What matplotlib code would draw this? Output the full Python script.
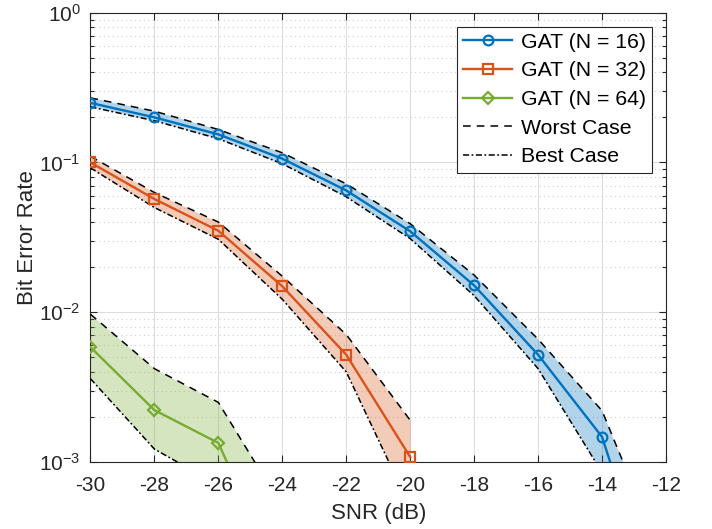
import numpy as np
import matplotlib
matplotlib.use("Agg")
import matplotlib.pyplot as plt
from matplotlib.ticker import LogLocator, NullFormatter

# SNR axis (dB)
snr16 = [-30, -28, -26, -24, -22, -20, -18, -16, -14, -12]
snr32 = [-30, -28, -26, -24, -22, -20]
snr64 = [-30, -28, -26, -24]

# bit error rate, mean / worst / best
ber16 = [0.25, 0.20, 0.154, 0.106, 0.065, 0.0347, 0.0151, 0.0052, 0.00147, 7e-5]
worst16 = [0.27, 0.22, 0.166, 0.116, 0.072, 0.039, 0.0177, 0.0066, 0.0022, 2e-4]
best16 = [0.235, 0.19, 0.144, 0.098, 0.059, 0.031, 0.0129, 0.0042, 0.00085, 3e-5]

ber32 = [0.1, 0.057, 0.035, 0.0149, 0.0052, 0.00108]
worst32 = [0.11, 0.063, 0.040, 0.0174, 0.0071, 0.0019]
best32 = [0.092, 0.050, 0.0307, 0.0122, 0.004, 0.0005]

ber64 = [0.00585, 0.00222, 0.00134, 1.5e-4]
worst64 = [0.0097, 0.0042, 0.0025, 5e-4]
best64 = [0.0036, 0.00122, 7e-4, 1e-4]

labels = ['GAT (N = 16)', 'GAT (N = 32)', 'GAT (N = 64)']
colors = ['#0072BD', '#D95319', '#77AC30']
markers = ['o', 's', 'D']

plt.rcParams['font.family'] = ['Liberation Sans', 'DejaVu Sans']
plt.rcParams['mathtext.fontset'] = 'custom'
plt.rcParams['mathtext.rm'] = 'Liberation Sans'
plt.rcParams['mathtext.it'] = 'Liberation Sans:italic'
plt.rcParams['axes.unicode_minus'] = False

fig = plt.figure(figsize=(7.12, 5.29), dpi=100)
ax = fig.add_axes([0.127, 0.1267, 0.8084, 0.8493])

series = [(snr16, ber16, worst16, best16),
          (snr32, ber32, worst32, best32),
          (snr64, ber64, worst64, best64)]

handles = []
for i, (x, y, w, b) in enumerate(series):
    ax.fill_between(x, b, w, color=colors[i], alpha=0.3, lw=0, zorder=2)
    hw, = ax.plot(x, w, color='k', lw=1.1, dashes=(5, 4), zorder=3)
    hb, = ax.plot(x, b, color='k', lw=1.1, dashes=(4, 1.6, 1.2, 1.6), zorder=3)
    ms = 7 if markers[i] != 'D' else 6
    h, = ax.plot(x, y, color=colors[i], lw=1.7, marker=markers[i], ms=ms,
                 mfc='none', mew=1.6, zorder=4, label=labels[i])
    handles.append(h)

hw.set_label('Worst Case')
hb.set_label('Best Case')
handles += [hw, hb]

ax.set_yscale('log')
ax.set_xlim(-30, -12)
ax.set_ylim(1e-3, 1)
ax.set_xticks(range(-30, -11, 2))
ax.yaxis.set_major_locator(LogLocator(base=10, numticks=10))
ax.yaxis.set_minor_locator(LogLocator(base=10, subs=np.arange(2, 10), numticks=10))
ax.yaxis.set_minor_formatter(NullFormatter())

ax.grid(True, which='major', color='#dcdcdc', lw=0.8)
ax.grid(True, which='minor', axis='y', color='#d0d0d0', lw=0.8, ls=(0, (1, 3)))
ax.set_axisbelow(True)

for s in ax.spines.values():
    s.set_color('#262626')
    s.set_linewidth(0.8)
ax.tick_params(which='both', direction='in', top=True, right=True, colors='#262626',
               labelsize=15, width=0.8)
ax.tick_params(which='major', length=5)
ax.tick_params(which='minor', length=3)
ax.tick_params(axis='x', pad=10)
ax.tick_params(axis='y', pad=7)

ax.set_xlabel('SNR (dB)', fontsize=16, color='#262626', labelpad=6)
ax.set_ylabel('Bit Error Rate', fontsize=16, color='#262626', labelpad=1)

leg = ax.legend(handles=handles, loc='upper right', fontsize=15.3, handlelength=2.3,
                fancybox=False, framealpha=1, edgecolor='#262626', borderaxespad=0.65,
                labelspacing=0.45, handletextpad=0.4, borderpad=0.3)
leg.get_frame().set_linewidth(0.8)
leg.set_zorder(10)

fig.savefig('out.png', dpi=100)
